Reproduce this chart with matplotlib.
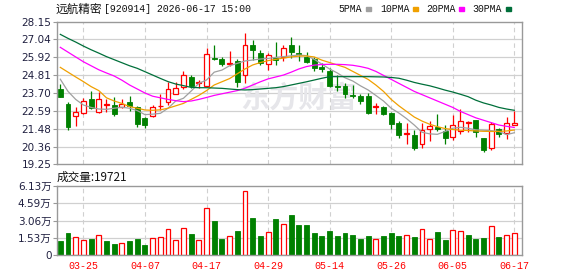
import numpy as np
import matplotlib.pyplot as plt
from matplotlib.patches import Rectangle

# 日K数据 (开, 收, 高, 低)
opens = [23.95, 23.01, 22.24, 22.47, 23.32, 22.49, 22.97, 22.95, 22.80, 23.12,
         22.80, 22.16, 22.24, 22.87, 23.16, 23.66, 24.09, 24.68, 24.34, 24.14,
         25.88, 25.84, 25.51, 25.70, 24.82, 26.69, 26.19, 25.49, 25.90, 25.97,
         26.69, 26.17, 25.97, 25.80, 25.30, 25.09, 24.16, 24.14, 23.57, 23.51,
         23.51, 22.82, 22.80, 22.43, 21.85, 21.14, 21.08, 20.50, 21.43, 21.60,
         21.35, 20.93, 21.35, 21.85, 21.99, 20.87, 20.29, 21.43, 21.20, 21.68]
closes = [23.47, 21.60, 22.49, 23.18, 22.76, 23.30, 23.01, 22.37, 23.01, 22.91,
          21.78, 21.70, 22.80, 22.91, 23.95, 23.99, 24.80, 24.14, 24.38, 26.11,
          25.82, 25.53, 25.55, 24.41, 26.67, 26.40, 25.57, 26.05, 25.78, 26.49,
          26.28, 26.11, 25.65, 25.24, 25.22, 24.14, 24.09, 23.62, 23.49, 23.20,
          22.43, 22.89, 22.39, 21.76, 21.08, 21.20, 20.29, 21.37, 21.62, 21.47,
          20.91, 21.70, 21.93, 21.91, 21.24, 20.14, 21.78, 21.16, 21.81, 21.83]
highs = [24.25, 23.12, 22.80, 23.37, 23.82, 23.78, 23.30, 23.45, 23.32, 23.51,
         22.91, 22.22, 22.95, 23.62, 24.41, 24.41, 25.07, 24.82, 24.49, 26.53,
         26.69, 25.95, 26.32, 25.80, 27.46, 26.98, 26.36, 26.19, 26.86, 26.69,
         27.21, 26.69, 26.28, 25.95, 25.55, 25.24, 24.82, 24.30, 24.20, 23.62,
         23.68, 23.05, 22.89, 22.49, 21.95, 21.81, 21.39, 21.85, 21.95, 22.39,
         21.70, 22.33, 22.68, 21.97, 21.99, 20.87, 21.89, 21.49, 22.20, 22.60]
lows = [23.45, 21.39, 21.66, 22.37, 22.70, 22.47, 22.49, 22.24, 22.76, 22.58,
        21.60, 21.54, 22.22, 22.66, 22.95, 23.62, 23.95, 24.03, 23.99, 24.07,
        25.76, 25.36, 25.40, 24.09, 24.30, 25.78, 25.47, 25.15, 25.45, 25.72,
        25.90, 25.70, 25.59, 25.07, 25.03, 24.09, 23.82, 23.41, 23.41, 22.99,
        22.39, 22.39, 22.31, 21.45, 20.87, 20.54, 20.14, 20.29, 20.70, 21.35,
        20.54, 20.77, 21.14, 21.29, 20.95, 20.02, 20.12, 20.93, 20.81, 21.68]

ma5 = [24.56, 23.80, 23.30, 22.95, 22.80, 22.70, 22.68, 22.75, 22.81, 22.75,
       22.60, 22.35, 22.38, 22.43, 22.75, 23.20, 23.37, 23.82, 24.30, 24.51,
       25.00, 25.13, 25.40, 25.55, 25.70, 25.76, 25.82, 25.86, 25.92, 25.97,
       26.02, 26.07, 26.03, 25.80, 25.50, 25.20, 24.95, 24.65, 24.45, 24.15,
       23.89, 23.55, 23.20, 22.75, 22.45, 22.10, 21.70, 21.25, 21.15, 21.12,
       21.30, 21.50, 21.56, 21.50, 21.40, 21.38, 21.35, 21.30, 21.10, 21.22]
ma10 = [25.30, 25.00, 24.70, 24.41, 24.10, 23.85, 23.40, 23.20, 23.05, 22.85,
        22.75, 22.64, 22.62, 22.65, 22.75, 22.90, 23.05, 23.30, 23.55, 23.85,
        24.20, 24.40, 24.60, 24.90, 25.20, 25.45, 25.60, 25.72, 25.80, 25.88,
        25.95, 26.00, 26.01, 25.95, 25.75, 25.60, 25.45, 25.30, 25.05, 24.80,
        24.55, 24.20, 23.80, 23.30, 22.90, 22.55, 22.20, 21.95, 21.75, 21.60,
        21.48, 21.42, 21.38, 21.36, 21.33, 21.31, 21.30, 21.30, 21.33, 21.39]
ma20 = [26.55, 26.25, 25.95, 25.65, 25.40, 25.15, 24.95, 24.76, 24.50, 24.20,
        23.95, 23.70, 23.50, 23.40, 23.30, 23.22, 23.16, 23.20, 23.30, 23.42,
        23.55, 23.65, 23.75, 23.85, 24.00, 24.20, 24.40, 24.58, 24.70, 24.82,
        25.00, 25.20, 25.35, 25.44, 25.48, 25.49, 25.49, 25.47, 25.43, 25.35,
        25.24, 25.05, 24.80, 24.55, 24.30, 24.05, 23.80, 23.60, 23.40, 23.20,
        23.00, 22.80, 22.55, 22.35, 22.15, 22.00, 21.85, 21.70, 21.62, 21.55]
ma30 = [27.36, 27.11, 26.88, 26.63, 26.40, 26.19, 25.97, 25.78, 25.59, 25.40,
        25.24, 25.03, 24.82, 24.61, 24.41, 24.26, 24.16, 24.05, 24.03, 24.03,
        24.01, 23.99, 23.95, 23.91, 23.89, 23.91, 23.95, 23.99, 24.03, 24.10,
        24.20, 24.30, 24.40, 24.51, 24.62, 24.72, 24.72, 24.72, 24.72, 24.72,
        24.72, 24.71, 24.70, 24.67, 24.62, 24.50, 24.36, 24.25, 24.15, 24.02,
        23.88, 23.76, 23.62, 23.47, 23.25, 23.08, 22.95, 22.80, 22.70, 22.62]

# 成交量 (万)
vols = [1.27, 1.98, 1.57, 1.33, 1.45, 1.75, 1.27, 0.98, 1.07, 1.27,
        1.45, 0.89, 1.48, 1.57, 2.28, 1.33, 2.37, 1.87, 1.33, 4.15,
        3.02, 1.45, 1.69, 2.13, 5.69, 3.29, 1.69, 2.04, 3.20, 2.75,
        3.55, 2.66, 2.66, 1.95, 1.69, 2.13, 1.69, 1.95, 1.78, 1.42,
        1.69, 1.39, 1.69, 1.95, 1.69, 1.75, 1.60, 2.28, 1.39, 2.04,
        1.33, 2.19, 2.10, 1.78, 1.42, 1.48, 2.55, 1.60, 1.75, 1.97]
vol_up = [0, 0, 1, 1, 0, 1, 0, 0, 1, 0, 0, 0, 1, 1, 1, 1, 1, 0, 1, 1,
          0, 0, 1, 0, 1, 0, 0, 1, 0, 1, 0, 0, 0, 0, 0, 0, 0, 0, 0, 0,
          0, 1, 0, 0, 0, 1, 0, 1, 1, 0, 0, 1, 1, 0, 0, 0, 1, 0, 1, 1]

date_pos = [3, 11, 19, 27, 35, 43, 51, 59]
date_labels = ['03-25', '04-07', '04-17', '04-29', '05-14', '05-26', '06-05', '06-17']
price_ticks = [19.25, 20.36, 21.48, 22.59, 23.70, 24.81, 25.92, 27.04, 28.15]
price_labels = ['19.25', '20.36', '21.48', '22.59', '23.70', '24.81', '25.92', '27.04', '28.15']
vol_ticks = [0, 1.53, 3.06, 4.59, 6.13]
vol_labels = ['0', '1.53万', '3.06万', '4.59万', '6.13万']

RED = '#ff0000'
GREEN = '#008000'
GRID = '#d0d0d0'
FRAME = '#999999'
TXT = '#202040'

x = np.arange(len(closes))
o = np.array(opens); c = np.array(closes); h = np.array(highs); l = np.array(lows)
up = c >= o

fig = plt.figure(figsize=(5.78, 2.76), dpi=100)
W, H = 578, 276
ax = fig.add_axes([57 / W, 1 - 164.3 / H, 465 / W, 142.6 / H])
axv = fig.add_axes([57 / W, 1 - 255 / H, 465 / W, 69 / H])

for a in (ax, axv):
    a.set_xlim(-0.43, 60.0)
    for s in a.spines.values():
        s.set_color(FRAME)
        s.set_linewidth(1.0)
    for p in date_pos:
        a.axvline(p, color=GRID, lw=0.8, ls=(0, (4, 3)), zorder=0)
    a.tick_params(axis='y', length=3, color=FRAME, labelsize=7.5, labelcolor=TXT, pad=1)
    a.tick_params(axis='x', length=0)

# 主图
ax.set_ylim(19.25, 28.15)
ax.set_yticks(price_ticks)
ax.set_yticklabels(price_labels)
ax.set_xticks([])
for t in price_ticks[1:-1]:
    ax.axhline(t, color=GRID, lw=0.9, zorder=0)

ax.text(0.52, 0.47, '东方财富', transform=ax.transAxes, fontsize=21, fontweight='bold',
        color='#e6e6ea', ha='center', va='center', family='Noto Sans CJK SC', zorder=0)

bw = 0.64
top = np.maximum(o, c)
bot = np.minimum(o, c)
body = np.maximum(top - bot, 0.03)
ax.vlines(x[up], top[up], h[up], color=RED, lw=0.9, zorder=2)
ax.vlines(x[up], l[up], bot[up], color=RED, lw=0.9, zorder=2)
ax.bar(x[up], body[up], bw, bot[up], facecolor='white', edgecolor=RED, lw=0.9, zorder=2)
ax.vlines(x[~up], l[~up], h[~up], color=GREEN, lw=0.9, zorder=2)
ax.bar(x[~up], body[~up], bw, bot[~up], facecolor=GREEN, edgecolor=GREEN, lw=0.6, zorder=2)

ma_colors = ['#a0a0a0', '#f0a000', '#ff00ff', '#006f3a']
for ma, col in zip([ma5, ma10, ma20, ma30], ma_colors):
    ax.plot(x, ma, color=col, lw=0.9, zorder=3)

# 成交量
vu = np.array(vol_up, dtype=bool)
v = np.array(vols)
axv.set_ylim(0, 6.13)
axv.set_yticks(vol_ticks)
axv.set_yticklabels(vol_labels, family=['DejaVu Sans', 'Noto Sans CJK SC'])
for t in vol_ticks[1:-1]:
    axv.axhline(t, color=GRID, lw=0.9, zorder=0)
axv.bar(x[vu], v[vu], bw, facecolor='white', edgecolor=RED, lw=0.9, zorder=2)
axv.bar(x[~vu], v[~vu], bw, facecolor=GREEN, edgecolor=GREEN, lw=0.6, zorder=2)
axv.set_xticks(date_pos)
axv.set_xticklabels(date_labels, color=RED, fontsize=7.2, family='Liberation Mono')
axv.tick_params(axis='x', pad=4)

# 标题与图例
ty = 1 - 9 / H
fig.text(56 / W, ty, '远航精密', fontsize=8.4, family='Noto Sans CJK SC', va='center', color='#111')
fig.text(104 / W, ty, '[920914] 2026-06-17 15:00', fontsize=7.1, family='Liberation Mono',
         va='center', color='#111')
leg_x = [338, 380, 426, 472]
sq_x = [366, 413, 459, 506]
for name, lx, sx, col in zip(['5PMA', '10PMA', '20PMA', '30PMA'], leg_x, sq_x, ma_colors):
    fig.text(lx / W, ty, name, fontsize=7.1, family='Liberation Mono', va='center', color='#111')
    fig.patches.append(Rectangle((sx / W, 1 - 10.8 / H), 5 / W, 3.5 / H,
                                 transform=fig.transFigure, color=col, figure=fig))
fig.text(57 / W, 1 - 177 / H, '成交量:19721', fontsize=8.4, family='Noto Sans CJK SC',
         va='center', color='#111')

fig.savefig('out.png', dpi=100)
